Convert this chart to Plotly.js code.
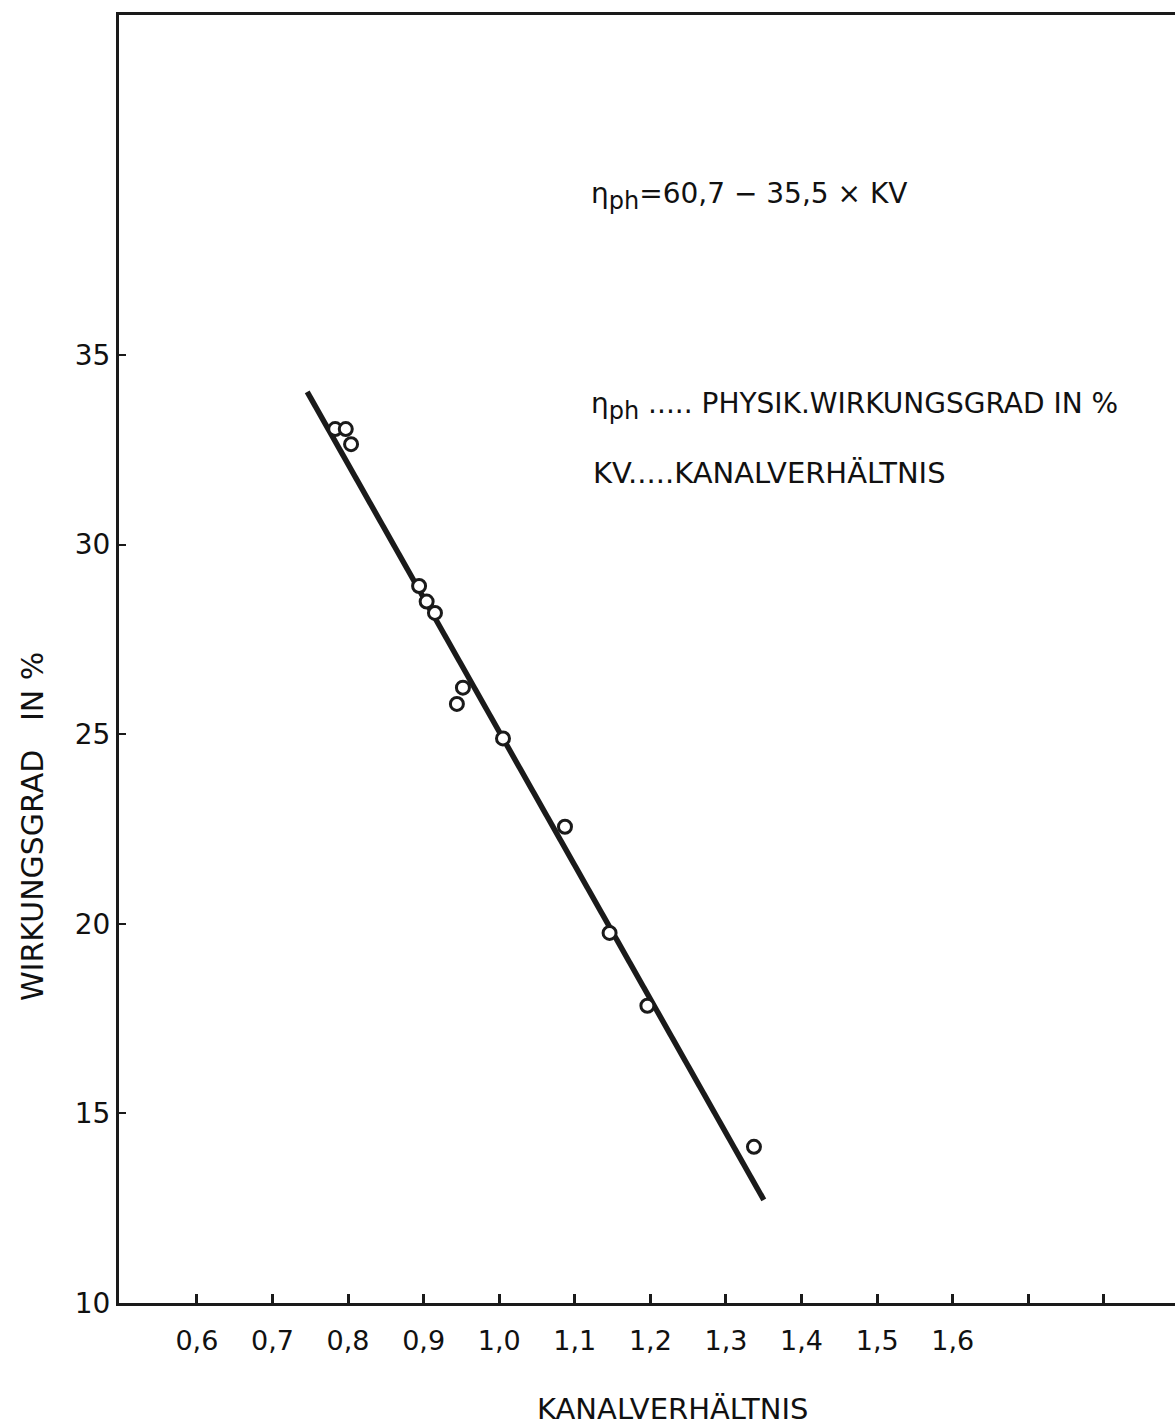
<!DOCTYPE html>
<html>
<head>
<meta charset="utf-8">
<script src="https://cdn.plot.ly/plotly-3.0.1.min.js"></script>
<style>
html,body{margin:0;padding:0;background:#fff;}
#chart{width:1175px;height:1428px;}
</style>
</head>
<body>
<div id="chart"></div>
<script>
// Measured points: Kanalverhältnis (KV) vs. physikalischer Wirkungsgrad (%)
const kv  = [0.783, 0.797, 0.804, 0.894, 0.904, 0.915, 0.952, 0.944, 1.005, 1.087, 1.146, 1.196, 1.337];
const eta = [33.05, 33.05, 32.65, 28.91, 28.50, 28.20, 26.23, 25.80, 24.89, 22.56, 19.76, 17.84, 14.12];

// Regression line endpoints as drawn (eta_ph = 60,7 - 35,5 * KV)
const fitKV  = [0.746, 1.350];
const fitEta = [34.03, 12.72];

// Axis ticks
const xTickVals = [0.6, 0.7, 0.8, 0.9, 1.0, 1.1, 1.2, 1.3, 1.4, 1.5, 1.6, 1.7, 1.8];
const xTickText = ['0,6', '0,7', '0,8', '0,9', '1,0', '1,1', '1,2', '1,3', '1,4', '1,5', '1,6', '', ''];
const yTickVals = [10, 15, 20, 25, 30, 35];
const yTickText = ['10', '15', '20', '25', '30', '35'];

const ink = '#1a1a1a';
const font = 'DejaVu Sans, Verdana, sans-serif';
const sub = '<sub><span style="font-size:24px">ph</span></sub>';

const traces = [
  {
    x: fitKV, y: fitEta, type: 'scatter', mode: 'lines',
    line: {color: ink, width: 5.5}, hoverinfo: 'skip'
  },
  {
    x: kv, y: eta, type: 'scatter', mode: 'markers',
    marker: {symbol: 'circle', size: 13, color: '#ffffff', line: {color: ink, width: 3}}
  }
];

const layout = {
  width: 1175, height: 1428,
  margin: {l: 119, r: 0, t: 15, b: 125},
  paper_bgcolor: '#ffffff', plot_bgcolor: '#ffffff',
  showlegend: false,
  xaxis: {
    range: [0.497, 1.894],
    tickmode: 'array', tickvals: xTickVals, ticktext: xTickText,
    ticks: 'inside', ticklen: 9, tickwidth: 3, tickcolor: ink,
    showline: true, linewidth: 3, linecolor: ink, mirror: true,
    showgrid: false, zeroline: false,
    ticklabelstandoff: 12,
    tickfont: {family: font, size: 27, color: '#111'}
  },
  yaxis: {
    range: [10, 43.97],
    tickmode: 'array', tickvals: yTickVals, ticktext: yTickText,
    ticks: 'inside', ticklen: 7, tickwidth: 2, tickcolor: ink,
    showline: true, linewidth: 3, linecolor: ink,
    showgrid: false, zeroline: false,
    ticklabelstandoff: 0,
    tickfont: {family: font, size: 28, color: '#111'}
  },
  annotations: [
    {
      xref: 'x', yref: 'y', x: 1.119, y: 39.2, xanchor: 'left', yanchor: 'middle',
      text: 'η' + sub + '=60,7 − 35,5 × KV', showarrow: false,
      font: {family: font, size: 28, color: '#111'}
    },
    {
      xref: 'x', yref: 'y', x: 1.119, y: 33.65, xanchor: 'left', yanchor: 'middle',
      text: 'η' + sub + ' ..... PHYSIK.WIRKUNGSGRAD IN %', showarrow: false,
      font: {family: font, size: 28, color: '#111'}
    },
    {
      xref: 'x', yref: 'y', x: 1.121, y: 31.9, xanchor: 'left', yanchor: 'middle',
      text: 'KV.....KANALVERHÄLTNIS', showarrow: false,
      font: {family: font, size: 29, color: '#111'}
    },
    {
      xref: 'paper', yref: 'paper', x: 0.5237, y: -0.0823, xanchor: 'center', yanchor: 'middle',
      text: 'KANALVERHÄLTNIS', showarrow: false,
      font: {family: font, size: 29, color: '#111'}
    },
    {
      xref: 'paper', yref: 'paper', x: -0.0824, y: 0.3703, xanchor: 'center', yanchor: 'middle',
      text: 'WIRKUNGSGRAD   IN %', showarrow: false, textangle: -90,
      font: {family: font, size: 30, color: '#111'}
    }
  ]
};

Plotly.newPlot('chart', traces, layout, {displayModeBar: false, staticPlot: true});
</script>
</body>
</html>
